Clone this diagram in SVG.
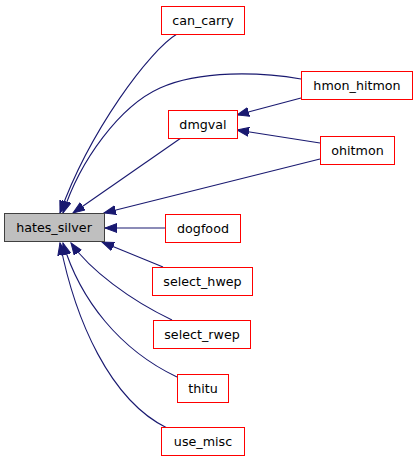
<svg xmlns="http://www.w3.org/2000/svg" width="419" height="461" viewBox="0 0 419 461">
<style>
.n rect{fill:#ffffff;stroke:#ff0000;stroke-width:1}
.n text{font-family:"DejaVu Sans",sans-serif;font-size:12.7px;fill:#000000;text-anchor:middle}
#hates_silver rect{fill:#bfbfbf;stroke:#404040}
.e path{fill:none;stroke:#191970;stroke-width:1.1;marker-end:url(#arr)}
</style>
<defs>
<marker id="arr" markerUnits="userSpaceOnUse" markerWidth="13" markerHeight="10" refX="12" refY="5" orient="auto" viewBox="0 0 13 10">
<path d="M0,0.5 L12,5 L0,9.5 z" fill="#191970" stroke="#191970" stroke-width="1"/>
</marker>
</defs>
<g id="edges" class="e">
<path d="M177,34 C150,50 90,130 60,213"/>
<path d="M301,79 C260,72 200,70 160,88 C120,106 80,160 63,213"/>
<path d="M181,138 L73,213"/>
<path d="M320,159 L104,213"/>
<path d="M301,98 L237,115"/>
<path d="M320,143 L237,130"/>
<path d="M165,228 L105,228"/>
<path d="M163,267 L102,242"/>
<path d="M172,320 C130,300 90,270 71,243"/>
<path d="M177,377 C120,350 80,300 63,243"/>
<path d="M167,428 C110,400 75,320 60,243"/>
</g>
<g id="hates_silver" class="n"><rect x="4.5" y="213.5" width="100" height="28"/><text x="54" y="232">hates_silver</text></g>
<g id="can_carry" class="n"><rect x="161.5" y="6.5" width="83" height="28"/><text x="203" y="25">can_carry</text></g>
<g id="dmgval" class="n"><rect x="168.5" y="110.5" width="69" height="28"/><text x="203" y="129">dmgval</text></g>
<g id="hmon_hitmon" class="n"><rect x="301.5" y="71.5" width="111" height="28"/><text x="357" y="90">hmon_hitmon</text></g>
<g id="ohitmon" class="n"><rect x="320.5" y="136.5" width="74" height="28"/><text x="357.5" y="155">ohitmon</text></g>
<g id="dogfood" class="n"><rect x="165.5" y="214.5" width="75" height="28"/><text x="203" y="233">dogfood</text></g>
<g id="select_hwep" class="n"><rect x="152.5" y="267.5" width="100" height="28"/><text x="202.5" y="286">select_hwep</text></g>
<g id="select_rwep" class="n"><rect x="153.5" y="320.5" width="97" height="28"/><text x="202" y="339">select_rwep</text></g>
<g id="thitu" class="n"><rect x="177.5" y="374.5" width="51" height="28"/><text x="203" y="393">thitu</text></g>
<g id="use_misc" class="n"><rect x="161.5" y="427.5" width="83" height="28"/><text x="203" y="446">use_misc</text></g>
</svg>
